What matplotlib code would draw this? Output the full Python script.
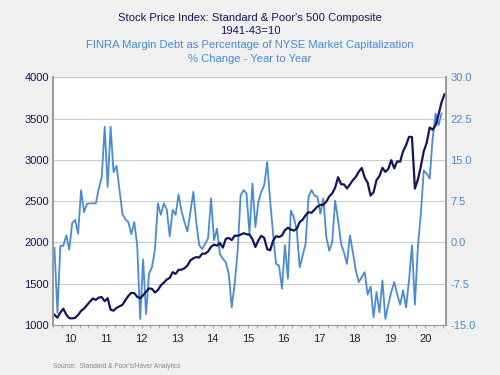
import numpy as np
import matplotlib
matplotlib.use('Agg')
import matplotlib.pyplot as plt

plt.rcParams['font.family'] = ['Liberation Sans', 'DejaVu Sans']

# S&P 500, moyenne mensuelle, janv. 2010 -> janv. 2021
sp500 = [1123.6, 1089.2, 1152.0, 1197.3, 1125.1, 1083.4, 1079.8, 1087.3, 1122.1, 1171.6, 1198.9, 1241.5,
         1282.6, 1321.1, 1304.5, 1331.5, 1338.3, 1287.3, 1325.2, 1185.3, 1173.9, 1207.2, 1226.4, 1243.3,
         1300.6, 1352.5, 1389.2, 1386.4, 1341.3, 1323.5, 1359.8, 1403.4, 1443.4, 1437.8, 1394.5, 1422.3,
         1480.4, 1512.3, 1550.8, 1570.7, 1639.8, 1618.8, 1668.7, 1670.1, 1687.2, 1720.0, 1783.5, 1807.8,
         1822.4, 1817.0, 1863.5, 1864.3, 1889.8, 1947.1, 1973.1, 1961.5, 1993.2, 1937.3, 2044.6, 2054.3,
         2028.2, 2082.2, 2079.9, 2094.9, 2111.9, 2099.3, 2094.1, 2039.9, 1944.4, 2024.8, 2080.6, 2054.1,
         1918.6, 1904.4, 2022.0, 2075.5, 2065.6, 2083.9, 2148.9, 2177.5, 2157.7, 2143.0, 2164.9, 2246.6,
         2275.1, 2329.9, 2366.8, 2359.3, 2395.3, 2434.0, 2454.1, 2456.2, 2492.8, 2557.0, 2593.6, 2664.3,
         2789.8, 2705.2, 2702.8, 2653.6, 2701.5, 2754.4, 2793.6, 2857.8, 2901.5, 2785.5, 2723.2, 2567.3,
         2607.4, 2754.9, 2803.9, 2903.8, 2854.7, 2890.2, 2996.1, 2897.5, 2982.2, 2977.7, 3104.9, 3176.7,
         3278.2, 3277.3, 2652.4, 2761.9, 2919.6, 3104.7, 3207.6, 3391.7, 3365.5, 3418.7, 3548.9, 3695.3,
         3793.7]

# Dette sur marge FINRA / capitalisation NYSE, variation annuelle en % (janv. 2010 -> déc. 2020)
margin = [-1.0, -12.8, -0.6, -0.6, 1.3, -1.3, 3.5, 4.1, 1.6, 9.5, 5.5, 7.0,
          7.1, 7.1, 7.1, 9.8, 11.9, 21.0, 10.1, 21.0, 12.8, 13.9, 9.5, 5.2,
          4.2, 3.7, 1.5, 3.7, -0.5, -13.9, -3.1, -13.0, -5.7, -4.5, -1.3, 7.1,
          5.0, 7.1, 6.0, 1.1, 5.9, 5.0, 8.7, 5.7, 3.7, 2.0, 5.5, 9.2,
          3.6, -0.5, -1.2, -0.3, 0.8, 8.0, 0.4, 2.5, -2.1, -3.0, -3.6, -5.7,
          -11.8, -7.5, -1.5, 8.6, 9.5, 8.9, 1.6, 10.7, 2.8, 7.3, 9.2, 10.4,
          14.6, 7.6, 1.5, -3.9, -4.2, -8.4, -0.5, -6.6, 5.8, 4.6, 2.2, -4.5,
          -2.4, -0.2, 8.3, 9.5, 8.5, 8.3, 5.2, 8.0, 1.0, -1.5, 0.0, 7.6,
          4.0, -0.2, -1.8, -3.9, 1.3, -1.8, -5.1, -7.2, -6.3, -5.4, -9.5, -8.0,
          -13.6, -9.0, -12.7, -6.9, -13.9, -11.3, -9.0, -7.2, -9.4, -11.3, -8.7, -11.8,
          -6.9, -0.5, -11.3, -0.8, 5.2, 13.1, 12.5, 11.6, 18.9, 23.4, 21.3, 23.4]

years = list(range(2010, 2021))
year_labels = ['10', '11', '12', '13', '14', '15', '16', '17', '18', '19', '20']
left_ticks = [1000, 1500, 2000, 2500, 3000, 3500, 4000]
right_ticks = [-15.0, -7.5, 0.0, 7.5, 15.0, 22.5, 30.0]

navy = '#15155c'
blue = '#4a8bd6'
bg = '#f0f0f0'

x_sp = 2010 + (np.arange(len(sp500)) + 0.5) / 12
x_mg = 2010 + (np.arange(len(margin)) + 0.5) / 12

fig = plt.figure(figsize=(5, 3.75), dpi=100, facecolor=bg)
ax2 = fig.add_axes([0.106, 0.1333, 0.786, 0.6606])
ax = ax2.twinx()

# axe droit (dessous) : fond blanc, grille, courbe bleue
ax2.set_facecolor('white')
ax2.plot(x_mg, margin, color=blue, lw=1.3)
ax2.set_ylim(-15, 30)
ax2.set_yticks(right_ticks)
ax2.set_yticklabels(['%.1f' % v for v in right_ticks])
ax2.grid(axis='y', color='#cccccc', lw=0.8)
ax2.yaxis.tick_right()
ax2.tick_params(axis='y', colors=blue, labelsize=8, length=0, pad=3)

# axe gauche (dessus) : S&P 500
ax.plot(x_sp, sp500, color=navy, lw=1.6)
ax.set_ylim(1000, 4000)
ax.set_yticks(left_ticks)
ax.yaxis.tick_left()
ax.tick_params(axis='y', colors=navy, labelsize=8, length=0, pad=3)
ax.set_zorder(ax2.get_zorder() + 1)
ax.patch.set_visible(False)

for a in (ax, ax2):
    a.set_xlim(2010.0, 2021.085)
    a.spines['top'].set_visible(False)
    a.spines['left'].set_color('#999999')
    a.spines['right'].set_color('#999999')
    a.spines['bottom'].set_color('#999999')
    a.spines['left'].set_linewidth(1.2)
    a.spines['right'].set_linewidth(1.2)

ax2.set_xticks(years + [2021])
ax2.set_xticklabels([])
ax2.set_xticks(np.arange(2010, 2021.01, 0.25), minor=True)
ax2.tick_params(axis='x', which='major', length=5, color='#999999')
ax2.tick_params(axis='x', which='minor', length=2.5, color='#999999')
ax.set_xticks([])
for y, lab in zip(years, year_labels):
    ax2.text(y + 0.5, -0.035, lab, transform=ax2.get_xaxis_transform(),
             ha='center', va='top', fontsize=8, color='#222222')

fig.text(0.5, 0.953, "Stock Price Index: Standard & Poor's 500 Composite",
         ha='center', va='center', fontsize=8.1, color=navy)
fig.text(0.5, 0.916, '1941-43=10', ha='center', va='center', fontsize=8.1, color=navy)
fig.text(0.5, 0.879, 'FINRA Margin Debt as Percentage of NYSE Market Capitalization',
         ha='center', va='center', fontsize=8.1, color=blue)
fig.text(0.5, 0.843, '% Change - Year to Year', ha='center', va='center', fontsize=8.1, color=blue)
fig.text(0.106, 0.012, "Source:  Standard & Poor's/Haver Analytics",
         ha='left', va='bottom', fontsize=4.75, color='#888888')

fig.savefig('out.png', dpi=100, facecolor=bg)
